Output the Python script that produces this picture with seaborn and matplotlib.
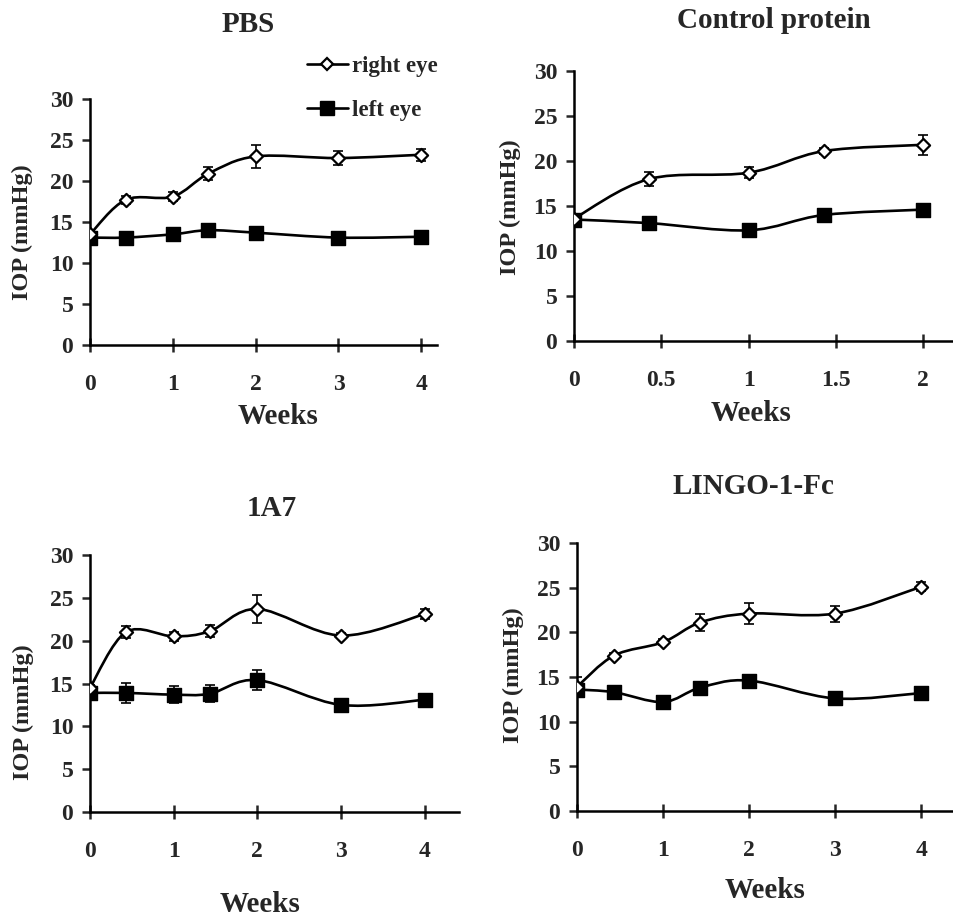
import numpy as np
import pandas as pd
import matplotlib.pyplot as plt
from matplotlib.path import Path
from matplotlib.patches import PathPatch
import seaborn as sns

# ==============================
# 1. Data
# ==============================
weeks_long = [0, 0.43, 1, 1.43, 2, 3, 4]
weeks_short = [0, 0.43, 1, 1.43, 2]

pbs_right = [13.5, 17.7, 18.1, 20.9, 23.0, 22.8, 23.2]
pbs_right_err = [0.3, 0.5, 0.5, 0.8, 1.4, 0.8, 0.7]
pbs_left = [13.1, 13.1, 13.5, 14.0, 13.7, 13.1, 13.2]
pbs_left_err = [0.3, 0.3, 0.3, 0.3, 0.3, 0.3, 0.3]

ctrl_right = [13.6, 18.0, 18.7, 21.1, 21.8]
ctrl_right_err = [0.3, 0.8, 0.6, 0.3, 1.1]
ctrl_left = [13.5, 13.1, 12.3, 14.0, 14.6]
ctrl_left_err = [0.3, 0.3, 0.3, 0.3, 0.3]

a17_right = [14.5, 21.0, 20.5, 21.1, 23.7, 20.6, 23.1]
a17_right_err = [0.3, 0.7, 0.5, 0.7, 1.6, 0.3, 0.6]
a17_left = [13.9, 13.9, 13.7, 13.8, 15.4, 12.5, 13.1]
a17_left_err = [0.3, 1.2, 1.0, 1.0, 1.2, 0.3, 0.3]

lingo_right = [13.9, 17.4, 18.9, 21.1, 22.1, 22.1, 25.1]
lingo_right_err = [1.1, 0.3, 0.3, 0.9, 1.2, 0.9, 0.5]
lingo_left = [13.6, 13.3, 12.2, 13.8, 14.6, 12.6, 13.2]
lingo_left_err = [0.3, 0.3, 0.3, 0.3, 0.3, 0.3, 0.3]

# ==============================
# 2. Style
# ==============================
sns.set_style('ticks')
plt.rcParams['font.family'] = ['Liberation Serif', 'DejaVu Serif']
plt.rcParams['font.weight'] = 'bold'

fig = plt.figure(figsize=(9.54, 9.19), dpi=100)
W, H = 954, 919


def add_axes(left, right, top, bottom):
    return fig.add_axes([left / W, 1 - bottom / H, (right - left) / W, (bottom - top) / H])


def smooth_path(x, y):
    # Excel-style smoothed line: Catmull-Rom segments as cubic Beziers
    x = np.asarray(x, float)
    y = np.asarray(y, float)
    px = np.concatenate([[x[0]], x, [x[-1]]])
    py = np.concatenate([[y[0]], y, [y[-1]]])
    verts = [(x[0], y[0])]
    codes = [Path.MOVETO]
    for i in range(1, len(px) - 2):
        c1 = (px[i] + (px[i + 1] - px[i - 1]) / 6, py[i] + (py[i + 1] - py[i - 1]) / 6)
        c2 = (px[i + 1] - (px[i + 2] - px[i]) / 6, py[i + 1] - (py[i + 2] - py[i]) / 6)
        verts += [c1, c2, (px[i + 1], py[i + 1])]
        codes += [Path.CURVE4] * 3
    return Path(verts, codes)


def draw_series(ax, x, y, err, kind):
    ax.add_patch(PathPatch(smooth_path(x, y), fill=False, lw=1.9, ec='black', zorder=2))
    ax.errorbar(x, y, yerr=err, fmt='none', ecolor='black', elinewidth=1.2, capsize=3.5,
                capthick=1.2, zorder=3)
    df = pd.DataFrame({'week': x, 'iop': y})
    if kind == 'right':
        sns.scatterplot(data=df, x='week', y='iop', marker='D', s=45, color='white',
                        edgecolor='black', linewidth=1.6, ax=ax, zorder=4)
    else:
        sns.scatterplot(data=df, x='week', y='iop', marker='s', s=110, color='black',
                        edgecolor='black', linewidth=1, ax=ax, zorder=4)


def style_axes(ax, xmax, xticks, xlabels):
    ax.set_xlim(0, xmax)
    ax.set_ylim(0, 30)
    ax.set_yticks([0, 5, 10, 15, 20, 25, 30])
    ax.set_xticks(xticks)
    ax.set_xticklabels(xlabels)
    ax.set_xlabel('')
    ax.set_ylabel('')
    for s in ['top', 'right']:
        ax.spines[s].set_visible(False)
    for s in ['left', 'bottom']:
        ax.spines[s].set_linewidth(1.8)
        ax.spines[s].set_color('black')
    ax.tick_params(axis='y', direction='out', length=6, width=1.8, pad=6, labelsize=17)
    ax.tick_params(axis='x', direction='inout', length=10, width=1.8, pad=16, labelsize=17)
    for lab in ax.get_xticklabels() + ax.get_yticklabels():
        lab.set_fontweight('bold')
    ax.patch.set_alpha(0)


panels = [
    # title, x, right, right_err, left, left_err, box (l, r, t, b), xmax, ticks, labels,
    # title centre, "Weeks" centre, y-label centre (pixels)
    ('PBS', weeks_long, pbs_right, pbs_right_err, pbs_left, pbs_left_err,
     (90, 437, 99, 345), 4.19, [0, 1, 2, 3, 4], ['0', '1', '2', '3', '4'],
     (248, 24), (278, 416), (22, 232)),
    ('Control protein', weeks_short, ctrl_right, ctrl_right_err, ctrl_left, ctrl_left_err,
     (574, 953, 71, 341), 2.17, [0, 0.5, 1, 1.5, 2], ['0', '0.5', '1', '1.5', '2'],
     (774, 20), (751, 413), (510, 207)),
    ('1A7', weeks_long, a17_right, a17_right_err, a17_left, a17_left_err,
     (90, 459, 555, 812), 4.41, [0, 1, 2, 3, 4], ['0', '1', '2', '3', '4'],
     (272, 509), (260, 905), (23, 712)),
    ('LINGO-1-Fc', weeks_long, lingo_right, lingo_right_err, lingo_left, lingo_left_err,
     (577, 953, 543, 811), 4.37, [0, 1, 2, 3, 4], ['0', '1', '2', '3', '4'],
     (753, 486), (765, 890), (513, 675)),
]

for (title, x, r, re, l, le, box, xmax, ticks, labels, tpos, xlpos, ylpos) in panels:
    ax = add_axes(*box)
    draw_series(ax, x, l, le, 'left')
    draw_series(ax, x, r, re, 'right')
    style_axes(ax, xmax, ticks, labels)
    fig.text(tpos[0] / W, 1 - tpos[1] / H, title, ha='center', va='center',
             fontsize=21, fontweight='bold')
    fig.text(xlpos[0] / W, 1 - xlpos[1] / H, 'Weeks', ha='center', va='center',
             fontsize=21, fontweight='bold')
    fig.text(ylpos[0] / W, 1 - ylpos[1] / H, 'IOP (mmHg)', ha='center', va='center',
             rotation=90, fontsize=17.5, fontweight='bold')

# ==============================
# 3. Legend (PBS panel)
# ==============================
h_right = plt.Line2D([], [], color='black', lw=1.9, marker='D', markersize=6.5,
                     markerfacecolor='white', markeredgecolor='black', markeredgewidth=1.6)
h_left = plt.Line2D([], [], color='black', lw=1.9, marker='s', markersize=10,
                    markerfacecolor='black')
fig.legend([h_right, h_left], ['right eye', 'left eye'], loc='upper left',
           bbox_to_anchor=(286 / W, 1 - 35 / H), frameon=False, handlelength=1.8,
           handletextpad=0.2, labelspacing=1.0, prop={'size': 16.5, 'weight': 'bold'})

plt.savefig('out.png', dpi=100)
plt.close()
